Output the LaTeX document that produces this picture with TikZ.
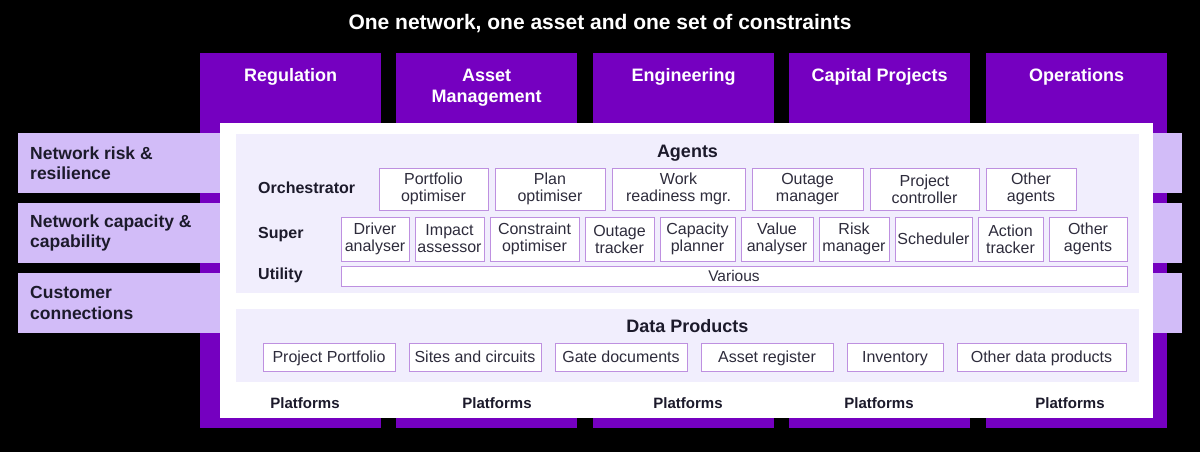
\documentclass[tikz,border=0pt]{standalone}
\usepackage{fontspec}
\setmainfont{Liberation Sans}
\usepackage{xcolor}
\definecolor{acpurple}{HTML}{7500C0}
\definecolor{acband}{HTML}{D2BCF8}
\definecolor{acpanel}{HTML}{F1EEFD}
\definecolor{acline}{HTML}{BE90E0}
\definecolor{acink}{HTML}{1C1A2B}
\definecolor{actext}{HTML}{2E2C3C}
\usepackage{tikz}
\usetikzlibrary{positioning}

\begin{document}
\begin{tikzpicture}[
  x=1pt, y=-1pt,
  column/.style={fill=acpurple, minimum width=181pt, minimum height=375pt,
                 anchor=north west, inner sep=0pt},
  colhead/.style={text=white, font=\fontsize{18}{21}\selectfont\bfseries,
                  align=center, inner sep=0pt},
  band/.style={fill=acband, minimum width=1164pt, minimum height=60pt,
               anchor=north west, inner sep=0pt},
  bandtext/.style={text=acink, font=\fontsize{17.5}{20.5}\selectfont\bfseries,
                   align=left, inner sep=0pt},
  panel/.style={fill=acpanel, minimum width=903pt, anchor=north west, inner sep=0pt},
  heading/.style={text=acink, font=\fontsize{18}{21}\selectfont\bfseries,
                  anchor=base, inner sep=0pt},
  rowlabel/.style={text=acink, font=\fontsize{16}{19}\selectfont\bfseries,
                   anchor=base west, inner sep=0pt},
  agent/.style={draw=acline, line width=1pt, fill=white, text=actext,
                align=center, inner sep=1pt, outer sep=0pt,
                font=\fontsize{16}{17}\selectfont},
  orch/.style={agent, minimum height=42pt},
  super/.style={agent, minimum height=44pt},
  dataprod/.style={agent, minimum height=28pt, minimum width=132pt,
                   text height=12pt, text depth=2pt},
  platform/.style={text=acink, font=\fontsize{15}{18}\selectfont\bfseries,
                   anchor=base, inner sep=0pt},
  node distance=7pt
]
  \useasboundingbox (0,0) rectangle (1200,452);
  \fill[black] (0,0) rectangle (1200,452);

  \node[text=white, font=\fontsize{21}{24}\selectfont\bfseries, anchor=base, inner sep=0pt]
    (title) at (600,30) {One network, one asset and one set of constraints};

  \node[column] (regulation) at (200,53) {};
  \node[column] (assetmgmt) at (396,53) {};
  \node[column] (engineering) at (593,53) {};
  \node[column] (capital) at (789,53) {};
  \node[column] (operations) at (986,53) {};
  \node[colhead, below=15pt of regulation.north] (regulationhead) {Regulation};
  \node[colhead, below=16pt of assetmgmt.north] (assetmgmthead) {Asset\\Management};
  \node[colhead, below=15pt of engineering.north] (engineeringhead) {Engineering};
  \node[colhead, below=15pt of capital.north] (capitalhead) {Capital Projects};
  \node[colhead, below=15pt of operations.north] (operationshead) {Operations};

  \node[band] (riskband) at (18,133) {};
  \node[band] (capband) at (18,203) {};
  \node[band] (custband) at (18,273) {};
  \node[bandtext, right=12pt of riskband.west] (risktext) {Network risk \&\\resilience};
  \node[bandtext, right=12pt of capband.west] (captext) {Network capacity \&\\capability};
  \node[bandtext, right=12pt of custband.west] (custtext) {Customer\\connections};

  \node[fill=white, minimum width=933pt, minimum height=295pt, anchor=north west,
        inner sep=0pt] (stack) at (220,123) {};
  \node[panel, minimum height=159pt] (agents) at (236,134) {};
  \node[panel, minimum height=73pt] (dataprods) at (236,309) {};

  \node[heading] (agentshead) at (687.5,157) {Agents};
  \node[heading] (datahead) at (687.5,332) {Data Products};

  \node[rowlabel] (orchlabel) at (258,193) {Orchestrator};
  \node[rowlabel] (superlabel) at (258,238) {Super};
  \node[rowlabel] (utillabel) at (258,279) {Utility};

  \node[orch, minimum width=109pt, anchor=north west] (port) at (379,168) {Portfolio\\optimiser};
  \node[orch, minimum width=110pt, right=of port] (plan) {Plan\\optimiser};
  \node[orch, minimum width=133pt, right=of plan] (work) {Work\\readiness mgr.};
  \node[orch, minimum width=111pt, right=of work] (outmgr) {Outage\\manager};
  \node[orch, minimum width=109pt, right=of outmgr] (projctl) {Project\\controller};
  \node[orch, minimum width=90pt, right=of projctl] (orchother) {Other\\agents};

  \node[super, minimum width=68pt, anchor=north west] (driver) at (341,217) {Driver\\analyser};
  \node[super, minimum width=69pt, right=6pt of driver] (impact) {Impact\\assessor};
  \node[super, minimum width=89pt, right=6pt of impact] (constr) {Constraint\\optimiser};
  \node[super, minimum width=69pt, right=6pt of constr] (outtrk) {Outage\\tracker};
  \node[super, minimum width=75pt, right=6pt of outtrk] (capplan) {Capacity\\planner};
  \node[super, minimum width=72pt, right=6pt of capplan] (value) {Value\\analyser};
  \node[super, minimum width=70pt, right=6pt of value] (risk) {Risk\\manager};
  \node[super, minimum width=77pt, right=6pt of risk] (sched) {Scheduler};
  \node[super, minimum width=65pt, right=6pt of sched] (action) {Action\\tracker};
  \node[super, minimum width=78pt, right=6pt of action] (superother) {Other\\agents};

  \node[agent, minimum width=786pt, minimum height=20pt, anchor=north west,
        font=\fontsize{15.5}{17}\selectfont] (various) at (341,266) {Various};

  \node[dataprod, anchor=north west] (projport) at (263,343) {Project Portfolio};
  \node[dataprod, right=14pt of projport] (sites) {Sites and circuits};
  \node[dataprod, right=14pt of sites] (gatedocs) {Gate documents};
  \node[dataprod, right=14pt of gatedocs] (assetreg) {Asset register};
  \node[dataprod, minimum width=96pt, right=14pt of assetreg] (inventory) {Inventory};
  \node[dataprod, minimum width=169pt, right=14pt of inventory] (otherdata) {Other data products};

  \node[platform] (plat1) at (305,408) {Platforms};
  \node[platform] (plat2) at (497,408) {Platforms};
  \node[platform] (plat3) at (688,408) {Platforms};
  \node[platform] (plat4) at (879,408) {Platforms};
  \node[platform] (plat5) at (1070,408) {Platforms};
\end{tikzpicture}
\end{document}
